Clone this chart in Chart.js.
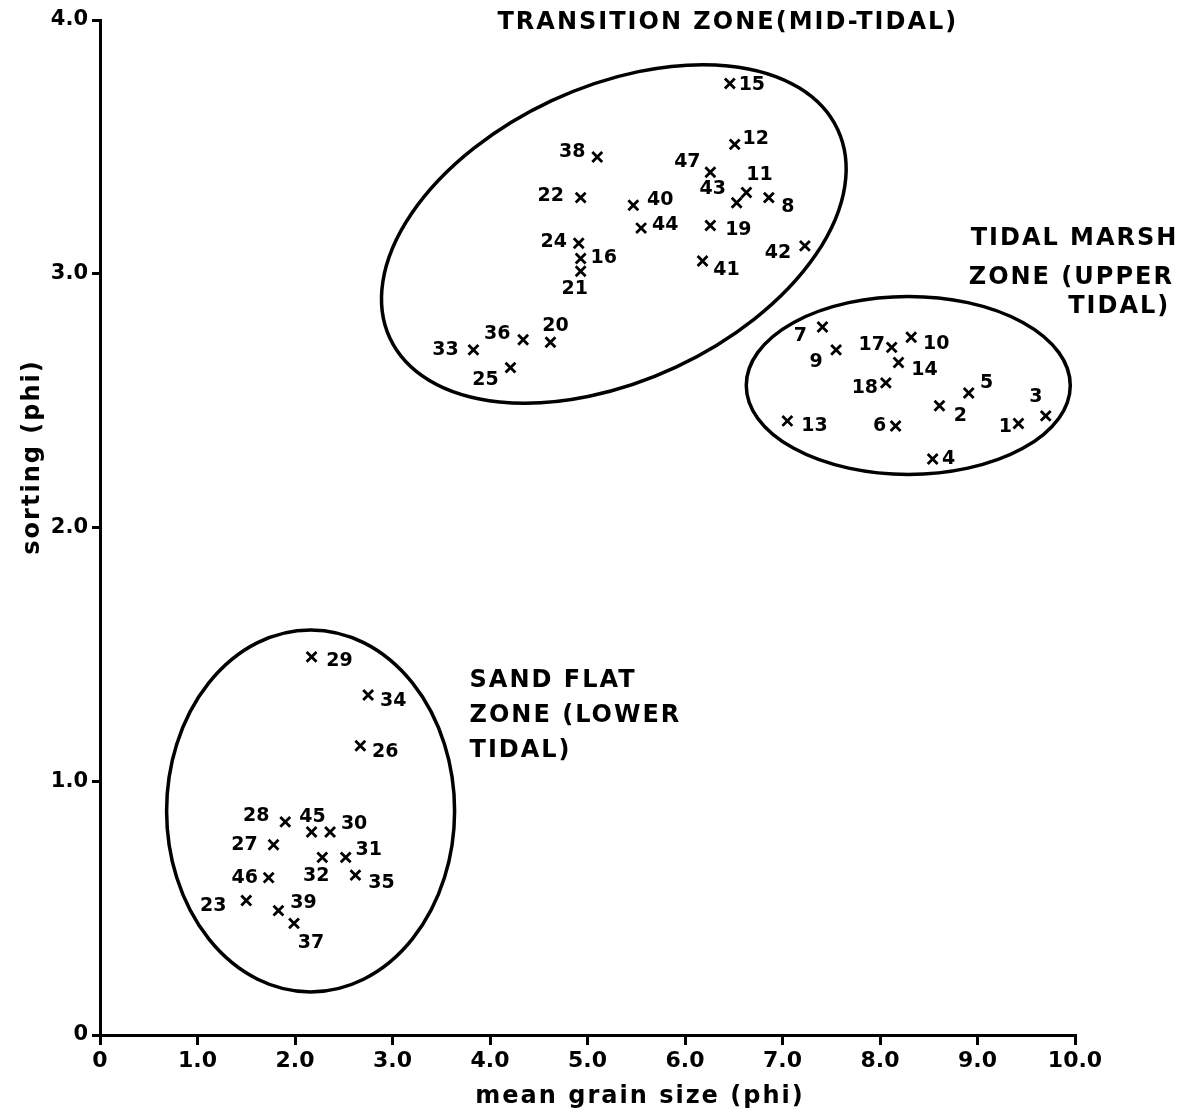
<!DOCTYPE html>
<html>
<head>
<meta charset="utf-8">
<script src="https://cdn.jsdelivr.net/npm/chart.js@4.4.1/dist/chart.umd.min.js"></script>
<style>
    html, body { margin: 0; padding: 0; background: #fff; }
    #wrap { width: 1186px; height: 1119px; }
</style>
</head>
<body>
<div id="wrap"><canvas id="chart" width="1186" height="1119"></canvas></div>
<script>
// sample numbers with mean grain size (phi) and sorting (phi)
const transitionIds = [15, 12, 38, 47, 11, 43, 8, 22, 40, 44, 19, 24, 16, 21, 42, 41, 20, 36, 33, 25];
const transitionMean = [6.46, 6.51, 5.10, 6.26, 6.63, 6.53, 6.86, 4.93, 5.47, 5.55, 6.26, 4.91, 4.93, 4.93, 7.23, 6.18, 4.62, 4.34, 3.83, 4.21];
const transitionSorting = [3.75, 3.51, 3.46, 3.40, 3.32, 3.28, 3.30, 3.30, 3.27, 3.18, 3.19, 3.12, 3.06, 3.01, 3.11, 3.05, 2.73, 2.74, 2.70, 2.63];

const marshIds = [7, 9, 17, 10, 14, 18, 5, 2, 3, 1, 13, 6, 4];
const marshMean = [7.41, 7.55, 8.12, 8.32, 8.19, 8.06, 8.91, 8.61, 9.70, 9.42, 7.05, 8.16, 8.54];
const marshSorting = [2.79, 2.70, 2.71, 2.75, 2.65, 2.57, 2.53, 2.48, 2.44, 2.41, 2.42, 2.40, 2.27];

const sandIds = [29, 34, 26, 28, 45, 30, 27, 32, 31, 35, 46, 23, 39, 37];
const sandMean = [2.17, 2.75, 2.67, 1.90, 2.17, 2.36, 1.78, 2.28, 2.52, 2.62, 1.73, 1.50, 1.83, 1.99];
const sandSorting = [1.49, 1.34, 1.14, 0.84, 0.80, 0.80, 0.75, 0.70, 0.70, 0.63, 0.62, 0.53, 0.49, 0.44];

const xTicks = [0, 1, 2, 3, 4, 5, 6, 7, 8, 9, 10];
const yTicks = [0, 1, 2, 3, 4];

// where each sample number sits next to its cross (px)
const labelOffset = {
    15: [22, 2], 12: [21, -5], 38: [-25, -5], 47: [-23, -10], 11: [13, -17], 43: [-24, -14],
    8: [19, 9], 22: [-30, -2], 40: [27, -5], 44: [24, -3], 19: [28, 5], 24: [-25, -1],
    16: [23, 0], 21: [-6, 18], 42: [-27, 7], 41: [24, 9], 20: [5, -16], 36: [-26, -6],
    33: [-28, 0], 25: [-25, 12],
    7: [-22, 9], 9: [-20, 12], 17: [-20, -2], 10: [25, 7], 14: [26, 7], 18: [-21, 5],
    5: [18, -10], 2: [21, 10], 3: [-10, -19], 1: [-13, 4], 13: [27, 5], 6: [-16, 0], 4: [16, 0],
    29: [28, 4], 34: [25, 6], 26: [25, 6], 28: [-29, -6], 45: [1, -15], 30: [24, -8],
    27: [-29, 0], 32: [-6, 19], 31: [23, -7], 35: [26, 8], 46: [-24, 0], 23: [-33, 6],
    39: [25, -8], 37: [17, 20]
};

// zone outlines: centre in data units, radii in px
const zoneRings = [
    { cx: 5.27, cy: 3.157, rx: 247, ry: 147, rot: -25 },
    { cx: 8.29, cy: 2.56, rx: 162, ry: 89, rot: 0 },
    { cx: 2.16, cy: 0.883, rx: 144, ry: 181, rot: 0 }
];

const zoneText = [
    { text: "TRANSITION ZONE(MID-TIDAL)", x: 6.44, y: 3.99, align: "center" },
    { text: "TIDAL MARSH", x: 8.93, y: 3.137, align: "left" },
    { text: "ZONE (UPPER", x: 8.91, y: 2.983, align: "left" },
    { text: "TIDAL)", x: 9.93, y: 2.869, align: "left" },
    { text: "SAND FLAT", x: 3.79, y: 1.395, align: "left" },
    { text: "ZONE (LOWER", x: 3.79, y: 1.257, align: "left" },
    { text: "TIDAL)", x: 3.79, y: 1.119, align: "left" }
];

const FONT = "'DejaVu Sans', 'Liberation Sans', sans-serif";

function toPoints(xs, ys) {
    return xs.map(function (x, i) { return { x: x, y: ys[i] }; });
}

const annotations = {
    id: "annotations",
    afterDatasetsDraw: function (chart) {
        const ctx = chart.ctx;
        const xs = chart.scales.x;
        const ys = chart.scales.y;
        ctx.save();

        /* ============ zone ellipses ============ */
        ctx.strokeStyle = "#000";
        ctx.lineWidth = 3.5;
        zoneRings.forEach(function (z) {
            ctx.beginPath();
            ctx.ellipse(xs.getPixelForValue(z.cx), ys.getPixelForValue(z.cy), z.rx, z.ry,
                z.rot * Math.PI / 180, 0, Math.PI * 2);
            ctx.stroke();
        });

        /* ============ sample numbers ============ */
        ctx.fillStyle = "#000";
        ctx.font = "bold 19px " + FONT;
        ctx.textAlign = "center";
        ctx.textBaseline = "middle";
        chart.data.datasets.forEach(function (ds, di) {
            const meta = chart.getDatasetMeta(di);
            meta.data.forEach(function (pt, i) {
                const id = ds.ids[i];
                const off = labelOffset[id] || [20, 0];
                ctx.fillText(String(id), pt.x + off[0], pt.y + off[1]);
            });
        });

        /* ============ zone names ============ */
        ctx.font = "bold 24px " + FONT;
        ctx.letterSpacing = "2px";
        zoneText.forEach(function (t) {
            ctx.textAlign = t.align;
            ctx.fillText(t.text, xs.getPixelForValue(t.x), ys.getPixelForValue(t.y));
        });

        /* ============ axis titles ============ */
        ctx.font = "bold 24px " + FONT;
        ctx.letterSpacing = "2px";
        ctx.textAlign = "center";
        ctx.textBaseline = "alphabetic";
        ctx.fillText("mean grain size (phi)", 640, 1103);

        ctx.translate(39, 457);
        ctx.rotate(-Math.PI / 2);
        ctx.fillText("sorting (phi)", 0, 0);

        ctx.letterSpacing = "0px";
        ctx.restore();
    }
};

function pointSet(ids, xs, ys) {
    return {
        ids: ids,
        data: toPoints(xs, ys),
        pointStyle: "crossRot",
        pointRadius: 7,
        pointHoverRadius: 7,
        borderColor: "#000",
        backgroundColor: "#000",
        pointBorderWidth: 2.8,
        showLine: false,
        clip: false
    };
}

new Chart(document.getElementById("chart").getContext("2d"), {
    type: "scatter",
    data: {
        datasets: [
            pointSet(transitionIds, transitionMean, transitionSorting),
            pointSet(marshIds, marshMean, marshSorting),
            pointSet(sandIds, sandMean, sandSorting)
        ]
    },
    options: {
        responsive: false,
        animation: false,
        devicePixelRatio: 1,
        layout: { padding: { top: 20, right: 111, left: 0, bottom: 0 } },
        plugins: {
            legend: { display: false },
            tooltip: { enabled: false }
        },
        scales: {
            x: {
                type: "linear",
                min: 0,
                max: 10,
                afterFit: function (s) { s.height = 84; },
                afterBuildTicks: function (s) {
                    s.ticks = xTicks.map(function (v) { return { value: v }; });
                },
                border: { color: "#000", width: 3 },
                grid: { drawOnChartArea: false, color: "#000", lineWidth: 3, tickLength: 10 },
                ticks: {
                    color: "#000",
                    padding: 3,
                    maxRotation: 0,
                    font: { family: FONT, size: 22, weight: "bold" },
                    callback: function (v) { return v === 0 ? "0" : v.toFixed(1); }
                }
            },
            y: {
                type: "linear",
                min: 0,
                max: 4,
                afterFit: function (s) { s.width = 100; },
                afterBuildTicks: function (s) {
                    s.ticks = yTicks.map(function (v) { return { value: v }; });
                },
                border: { color: "#000", width: 3 },
                grid: { drawOnChartArea: false, color: "#000", lineWidth: 3, tickLength: 8 },
                ticks: {
                    color: "#000",
                    padding: 4,
                    font: { family: FONT, size: 21, weight: "bold" },
                    callback: function (v) { return v === 0 ? "0" : v.toFixed(1); }
                }
            }
        }
    },
    plugins: [annotations]
});
</script>
</body>
</html>
